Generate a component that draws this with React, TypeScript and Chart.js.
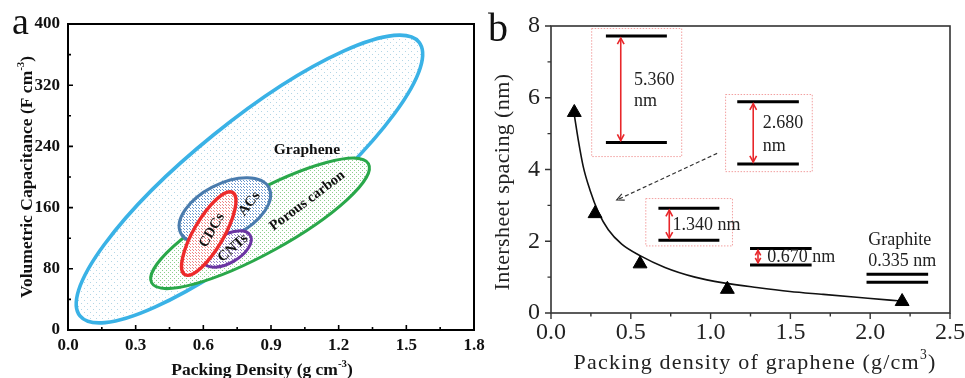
import React, { useEffect, useRef } from 'react';
import { Chart, registerables } from 'chart.js';

Chart.register(...registerables);

// ---------------- Panel a data ----------------
const densityTicksA = [0, 0.3, 0.6, 0.9, 1.2, 1.5, 1.8];
const capacitanceTicks = [0, 80, 160, 240, 320, 400];

const regionNames = ['Graphene', 'Porous carbon', 'ACs', 'CNTs', 'CDCs'];
// major-axis end points of each region (packing density, volumetric capacitance)
const regionAxisStart = [
  [0.053, 18.4],
  [0.371, 61.6],
  [0.5, 126.5],
  [0.601, 88.2],
  [0.518, 72.4],
];
const regionAxisEnd = [
  [1.556, 376.4],
  [1.332, 217.4],
  [0.891, 185.9],
  [0.808, 123.5],
  [0.73, 179.8],
];
// minor / major axis ratio
const regionWidthRatio = [0.261, 0.244, 0.536, 0.52, 0.315];
// label anchor (data units) and rotation (deg)
const regionLabelX = [1.059, 1.058, 0.8, 0.728, 0.634];
const regionLabelY = [237, 170, 166, 108, 131];
const regionLabelAngle = [0, -37, -52, -41, -60];

// ---------------- Panel b data ----------------
const densityTicksB = [0, 0.5, 1.0, 1.5, 2.0, 2.5];
const spacingTicks = [0, 2, 4, 6, 8];
const packingDensity = [0.146, 0.276, 0.558, 1.105, 2.2];
const intersheetSpacing = [5.59, 2.77, 1.37, 0.66, 0.32];
const fitDensity = [0.146, 0.171, 0.202, 0.244, 0.296, 0.359, 0.443, 0.558, 0.714, 0.902, 1.08, 1.289, 1.497, 1.706, 1.915, 2.124, 2.2];
const fitSpacing = [5.52, 4.82, 4.08, 3.43, 2.82, 2.32, 1.92, 1.6, 1.27, 1.0, 0.84, 0.71, 0.6, 0.52, 0.44, 0.36, 0.33];

// dotted boxes [x0, x1, yTop, yBottom]
const insetBoxes = [
  [0.255, 0.819, 7.93, 4.36],
  [1.094, 1.637, 6.09, 3.94],
  [0.594, 1.137, 3.19, 1.87],
];
// graphene sheet pairs [x0, x1, yUpper, yLower]
const sheetPairs = [
  [0.344, 0.726, 7.72, 4.75],
  [1.167, 1.553, 5.89, 4.15],
  [0.673, 1.055, 2.92, 2.03],
  [1.247, 1.633, 1.8, 1.34],
  [1.977, 2.363, 1.08, 0.86],
];
const spacingArrowX = [0.437, 1.267, 0.741, 1.297];
const insetTexts = ['5.360', 'nm', '2.680', 'nm', '1.340 nm', '0.670 nm', 'Graphite', '0.335 nm'];
const insetTextX = [0.52, 0.52, 1.326, 1.326, 0.762, 1.355, 1.988, 1.988];
const insetTextY = [6.49, 5.91, 5.29, 4.66, 2.45, 1.54, 2.03, 1.43];
const pointerStart = [1.041, 4.45];
const pointerEnd = [0.412, 3.15];

// ---------------- styles ----------------
const SERIF = "'Liberation Serif', 'Times New Roman', serif";
const regionStroke = ['#3ab2e6', '#2aa84a', '#4a7cae', '#6b35a3', '#ee2b2b'];
const regionDot = ['#b3d6e6', '#8ccf8c', '#6a98cf', '#9580c6', '#ef8585'];
const regionTile = [6, 4, 3, 3, 3];
const regionLineWidth = [3.6, 3, 3, 3, 3.4];

function minorValues(majors: number[]) {
  const out: number[] = [];
  for (let i = 0; i < majors.length - 1; i++) out.push((majors[i] + majors[i + 1]) / 2);
  return out;
}

function makePattern(ctx: CanvasRenderingContext2D, color: string, size: number) {
  const c = document.createElement('canvas');
  c.width = size;
  c.height = size;
  const g = c.getContext('2d')!;
  g.fillStyle = '#ffffff';
  g.fillRect(0, 0, size, size);
  g.fillStyle = color;
  g.fillRect(0, 0, 1, 1);
  const h = Math.floor(size / 2);
  g.fillRect(h, h, 1, 1);
  return ctx.createPattern(c, 'repeat')!;
}

type Part = [string, boolean];
function drawRich(
  ctx: CanvasRenderingContext2D,
  parts: Part[],
  x: number,
  y: number,
  size: number,
  weight: string,
  rotate: number,
  color: string,
  spacing = 0
) {
  ctx.save();
  ctx.translate(x, y);
  ctx.rotate(rotate);
  ctx.fillStyle = color;
  ctx.textBaseline = 'alphabetic';
  ctx.textAlign = 'left';
  (ctx as any).letterSpacing = spacing + 'px';
  const fonts = parts.map(([, sup]) => `${weight} ${sup ? size * 0.62 : size}px ${SERIF}`);
  let total = 0;
  const widths = parts.map((p, i) => {
    ctx.font = fonts[i];
    const w = ctx.measureText(p[0]).width;
    total += w;
    return w;
  });
  let cx = -total / 2;
  parts.forEach((p, i) => {
    ctx.font = fonts[i];
    ctx.fillText(p[0], cx, size * 0.34 + (p[1] ? -size * 0.48 : 0));
    cx += widths[i];
  });
  ctx.restore();
}

function drawArrowHead(ctx: CanvasRenderingContext2D, x: number, y: number, ang: number, len: number, spread: number) {
  ctx.beginPath();
  ctx.moveTo(x - len * Math.cos(ang - spread), y - len * Math.sin(ang - spread));
  ctx.lineTo(x, y);
  ctx.lineTo(x - len * Math.cos(ang + spread), y - len * Math.sin(ang + spread));
  ctx.stroke();
}

const panelAPlugin = {
  id: 'panelA',
  afterDraw(chart: any) {
    const ctx: CanvasRenderingContext2D = chart.ctx;
    const xs = chart.scales.x;
    const ys = chart.scales.y;
    const { left, right, top, bottom } = chart.chartArea;
    const px = (v: number) => xs.getPixelForValue(v);
    const py = (v: number) => ys.getPixelForValue(v);
    ctx.save();
    // regions
    regionNames.forEach((_, i) => {
      const X1 = px(regionAxisStart[i][0]);
      const Y1 = py(regionAxisStart[i][1]);
      const X2 = px(regionAxisEnd[i][0]);
      const Y2 = py(regionAxisEnd[i][1]);
      const cx = (X1 + X2) / 2;
      const cy = (Y1 + Y2) / 2;
      const a = Math.hypot(X2 - X1, Y2 - Y1) / 2;
      const b = a * regionWidthRatio[i];
      const ang = Math.atan2(Y2 - Y1, X2 - X1);
      ctx.beginPath();
      ctx.ellipse(cx, cy, a, b, ang, 0, Math.PI * 2);
      ctx.fillStyle = makePattern(ctx, regionDot[i], regionTile[i]);
      ctx.fill();
      ctx.lineWidth = regionLineWidth[i];
      ctx.strokeStyle = regionStroke[i];
      ctx.stroke();
    });
    // region labels
    regionNames.forEach((name, i) => {
      drawRich(ctx, [[name, false]], px(regionLabelX[i]), py(regionLabelY[i]), i === 0 ? 15.5 : 14.5, 'bold', (regionLabelAngle[i] * Math.PI) / 180, '#111');
    });
    // ticks (inward)
    ctx.strokeStyle = '#000';
    ctx.lineWidth = 1.6;
    ctx.beginPath();
    densityTicksA.forEach((v) => {
      ctx.moveTo(px(v), bottom);
      ctx.lineTo(px(v), bottom - 5);
    });
    minorValues(densityTicksA).forEach((v) => {
      ctx.moveTo(px(v), bottom);
      ctx.lineTo(px(v), bottom - 3);
    });
    capacitanceTicks.forEach((v) => {
      ctx.moveTo(left, py(v));
      ctx.lineTo(left + 5, py(v));
    });
    minorValues(capacitanceTicks).forEach((v) => {
      ctx.moveTo(left, py(v));
      ctx.lineTo(left + 3, py(v));
    });
    ctx.stroke();
    // frame
    ctx.lineWidth = 2;
    ctx.strokeRect(left, top, right - left, bottom - top);
    // titles
    drawRich(ctx, [['Volumetric Capacitance (F cm', false], ['-3', true], [')', false]], left - 42, (top + bottom) / 2, 17.5, 'bold', -Math.PI / 2, '#111');
    drawRich(ctx, [['Packing Density (g cm', false], ['-3', true], [')', false]], (left + right) / 2 - 9, 369, 17.5, 'bold', 0, '#111');
    ctx.font = `normal 38px ${SERIF}`;
    ctx.fillStyle = '#111';
    ctx.textAlign = 'left';
    ctx.textBaseline = 'alphabetic';
    ctx.fillText('a', 12, 34);
    ctx.restore();
  },
};

const panelBPlugin = {
  id: 'panelB',
  afterDatasetsDraw(chart: any) {
    const ctx: CanvasRenderingContext2D = chart.ctx;
    const xs = chart.scales.x;
    const ys = chart.scales.y;
    const { left, right, top, bottom } = chart.chartArea;
    const px = (v: number) => xs.getPixelForValue(v);
    const py = (v: number) => ys.getPixelForValue(v);
    ctx.save();
    // dotted boxes
    ctx.strokeStyle = '#f2a0a0';
    ctx.lineWidth = 1;
    ctx.setLineDash([1.5, 1.5]);
    insetBoxes.forEach((b) => {
      ctx.strokeRect(px(b[0]), py(b[2]), px(b[1]) - px(b[0]), py(b[3]) - py(b[2]));
    });
    ctx.setLineDash([]);
    // sheets
    ctx.strokeStyle = '#000';
    ctx.lineWidth = 3;
    sheetPairs.forEach((s) => {
      ctx.beginPath();
      ctx.moveTo(px(s[0]), py(s[2]));
      ctx.lineTo(px(s[1]), py(s[2]));
      ctx.moveTo(px(s[0]), py(s[3]));
      ctx.lineTo(px(s[1]), py(s[3]));
      ctx.stroke();
    });
    // red double arrows
    ctx.strokeStyle = '#e8262a';
    ctx.lineWidth = 1.6;
    spacingArrowX.forEach((x, i) => {
      const X = px(x);
      const y1 = py(sheetPairs[i][2]) + 2;
      const y2 = py(sheetPairs[i][3]) - 2;
      ctx.beginPath();
      ctx.moveTo(X, y1);
      ctx.lineTo(X, y2);
      ctx.stroke();
      const len = Math.min(7, (y2 - y1) / 2.2);
      drawArrowHead(ctx, X, y1, -Math.PI / 2, len, 0.5);
      drawArrowHead(ctx, X, y2, Math.PI / 2, len, 0.5);
    });
    // texts
    ctx.fillStyle = '#222';
    ctx.font = `normal 18px ${SERIF}`;
    ctx.textAlign = 'left';
    ctx.textBaseline = 'middle';
    insetTexts.forEach((t, i) => {
      ctx.fillText(t, px(insetTextX[i]), py(insetTextY[i]));
    });
    // dashed pointer
    ctx.strokeStyle = '#333';
    ctx.lineWidth = 1.2;
    ctx.setLineDash([4, 2.5]);
    const sx = px(pointerStart[0]);
    const sy = py(pointerStart[1]);
    const ex = px(pointerEnd[0]);
    const ey = py(pointerEnd[1]);
    ctx.beginPath();
    ctx.moveTo(sx, sy);
    ctx.lineTo(ex, ey);
    ctx.stroke();
    ctx.setLineDash([]);
    drawArrowHead(ctx, ex, ey, Math.atan2(ey - sy, ex - sx), 8, 0.45);
    // ticks (outward)
    ctx.strokeStyle = '#333';
    ctx.lineWidth = 1.4;
    ctx.beginPath();
    densityTicksB.forEach((v) => {
      ctx.moveTo(px(v), bottom);
      ctx.lineTo(px(v), bottom + 6);
    });
    minorValues(densityTicksB).forEach((v) => {
      ctx.moveTo(px(v), bottom);
      ctx.lineTo(px(v), bottom + 3.5);
    });
    spacingTicks.forEach((v) => {
      ctx.moveTo(left, py(v));
      ctx.lineTo(left - 6, py(v));
    });
    minorValues(spacingTicks).forEach((v) => {
      ctx.moveTo(left, py(v));
      ctx.lineTo(left - 3.5, py(v));
    });
    ctx.stroke();
    ctx.lineWidth = 1.6;
    ctx.strokeRect(left, top, right - left, bottom - top);
    // titles
    drawRich(ctx, [['Intersheet spacing (nm)', false]], left - 49, 182, 22, 'normal', -Math.PI / 2, '#222', 0.4);
    drawRich(ctx, [['Packing density of graphene (g/cm', false], ['3', true], [')', false]], 273, 362, 22, 'normal', 0, '#222', 1.2);
    ctx.font = `normal 40px ${SERIF}`;
    ctx.fillStyle = '#111';
    ctx.textAlign = 'left';
    ctx.textBaseline = 'alphabetic';
    ctx.fillText('b', 6, 41);
    ctx.restore();
  },
};

function fixedTicks(values: number[]) {
  return (s: any) => {
    s.ticks = values.map((v) => ({ value: v }));
  };
}

function zeroPad(size: 'w' | 'h', n: number) {
  return (s: any) => {
    if (size === 'w') s.width = n;
    else s.height = n;
    s.paddingLeft = 0;
    s.paddingRight = 0;
    s.paddingTop = 0;
    s.paddingBottom = 0;
  };
}

export default function App() {
  const refA = useRef<HTMLCanvasElement>(null);
  const refB = useRef<HTMLCanvasElement>(null);

  useEffect(() => {
    const tickFontA = { family: SERIF, size: 17, weight: 'bold' as const };
    const chartA = new Chart(refA.current!, {
      type: 'scatter',
      data: { datasets: [] },
      options: {
        animation: false,
        responsive: false,
        layout: { padding: { left: 0, top: 24, right: 22, bottom: 0 } },
        plugins: { legend: { display: false }, tooltip: { enabled: false } },
        scales: {
          x: {
            type: 'linear',
            min: 0,
            max: 1.8,
            afterBuildTicks: fixedTicks(densityTicksA),
            afterFit: zeroPad('h', 48),
            grid: { display: false, drawTicks: false },
            border: { display: false },
            ticks: { padding: 5, font: tickFontA, color: '#111', maxRotation: 0, autoSkip: false, callback: (v: any) => Number(v).toFixed(1) },
          },
          y: {
            type: 'linear',
            min: 0,
            max: 400,
            afterBuildTicks: fixedTicks(capacitanceTicks),
            afterFit: zeroPad('w', 68),
            grid: { display: false, drawTicks: false },
            border: { display: false },
            ticks: { padding: 8, font: tickFontA, color: '#111', autoSkip: false, callback: (v: any) => String(v) },
          },
        },
      },
      plugins: [panelAPlugin],
    } as any);

    const tickFontB = { family: SERIF, size: 24, weight: 'normal' as const };
    const chartB = new Chart(refB.current!, {
      type: 'scatter',
      data: {
        datasets: [
          {
            type: 'scatter',
            label: 'Measured',
            data: packingDensity.map((x, i) => ({ x, y: intersheetSpacing[i] })),
            pointStyle: 'triangle',
            pointRadius: 8,
            backgroundColor: '#000',
            borderColor: '#000',
            borderWidth: 1,
            order: 0,
          },
          {
            type: 'line',
            label: 'Fit',
            data: fitDensity.map((x, i) => ({ x, y: fitSpacing[i] })),
            showLine: true,
            pointRadius: 0,
            borderColor: '#111',
            borderWidth: 1.6,
            fill: false,
            cubicInterpolationMode: 'monotone',
            order: 1,
          },
        ],
      },
      options: {
        animation: false,
        responsive: false,
        layout: { padding: { left: 0, top: 26, right: 15, bottom: 0 } },
        plugins: { legend: { display: false }, tooltip: { enabled: false } },
        scales: {
          x: {
            type: 'linear',
            min: 0,
            max: 2.5,
            afterBuildTicks: fixedTicks(densityTicksB),
            afterFit: zeroPad('h', 65),
            grid: { display: false, drawTicks: false },
            border: { display: false },
            ticks: { padding: 5, font: tickFontB, color: '#222', maxRotation: 0, autoSkip: false, callback: (v: any) => Number(v).toFixed(1) },
          },
          y: {
            type: 'linear',
            min: 0,
            max: 8,
            afterBuildTicks: fixedTicks(spacingTicks),
            afterFit: zeroPad('w', 69),
            grid: { display: false, drawTicks: false },
            border: { display: false },
            ticks: { padding: 11, font: tickFontB, color: '#222', autoSkip: false, callback: (v: any) => String(v) },
          },
        },
      },
      plugins: [panelBPlugin],
    } as any);

    return () => {
      chartA.destroy();
      chartB.destroy();
    };
  }, []);

  return (
    <div style={{ position: 'fixed', left: 0, top: 0, width: 965, height: 378, background: '#fff', overflow: 'hidden' }}>
      <canvas ref={refA} width={496} height={378} style={{ position: 'absolute', left: 0, top: 0 }} />
      <canvas ref={refB} width={483} height={378} style={{ position: 'absolute', left: 482, top: 0 }} />
    </div>
  );
}
